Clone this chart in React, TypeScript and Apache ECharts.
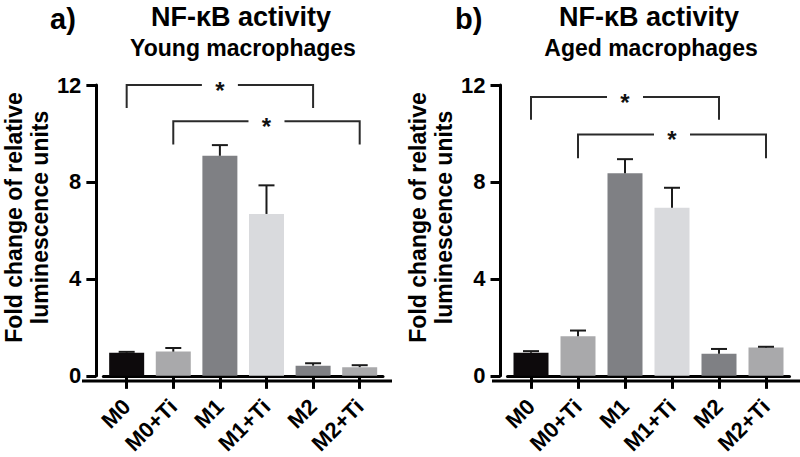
import React, { useEffect, useRef } from "react";
import * as echarts from "echarts";

const categories = ["M0", "M0+Ti", "M1", "M1+Ti", "M2", "M2+Ti"];
const youngMeans = [0.95, 1.0, 9.08, 6.68, 0.42, 0.36];
const youngErrors = [0.04, 0.15, 0.44, 1.18, 0.1, 0.08];
const agedMeans = [0.95, 1.63, 8.36, 6.94, 0.91, 1.17];
const agedErrors = [0.07, 0.24, 0.58, 0.82, 0.2, 0.03];
const barColors = ["#0d0a0c", "#a9a9ab", "#7f8084", "#d9dadd", "#7f8084", "#a9a9ab"];
// [fromIndex, toIndex, bracketTop, bracketLegBottom]
const youngBrackets = [
  [0, 4, 12, 11.05],
  [1, 5, 10.5, 9.55],
];
const agedBrackets = [
  [0, 4, 11.5, 10.57],
  [1, 5, 9.96, 8.98],
];
const yMin = 0;
const yMax = 12;
const yInterval = 4;
const panelLetters = ["a)", "b)"];
const panelTitle = "NF-κB activity";
const panelSubtitles = ["Young macrophages", "Aged macrophages"];
const yAxisName = "Fold change of relative\nluminescence units";

const FONT = "'Liberation Sans', Arial, Helvetica, sans-serif";

function errorRender(params: any, api: any) {
  const x = api.value(0);
  const m = api.value(1);
  const e = api.value(2);
  const base = api.coord([x, m]);
  const top = api.coord([x, m + e]);
  const style = { stroke: "#1b1b1b", lineWidth: 2 };
  return {
    type: "group",
    children: [
      { type: "line", shape: { x1: base[0], y1: base[1], x2: top[0], y2: top[1] }, style },
      { type: "line", shape: { x1: top[0] - 8, y1: top[1], x2: top[0] + 8, y2: top[1] }, style },
    ],
  };
}

function bracketRender(params: any, api: any) {
  const x1 = api.value(0);
  const x2 = api.value(1);
  const yt = api.value(2);
  const yb = api.value(3);
  const p1 = api.coord([x1, yb]);
  const p2 = api.coord([x1, yt]);
  const p3 = api.coord([x2, yt]);
  const p4 = api.coord([x2, yb]);
  const mid = (p2[0] + p3[0]) / 2;
  const gap = 18;
  const style = { stroke: "#2a2a2a", lineWidth: 2, fill: null };
  return {
    type: "group",
    children: [
      { type: "polyline", shape: { points: [p1, p2, [mid - gap, p2[1]]] }, style },
      { type: "polyline", shape: { points: [[mid + gap, p3[1]], p3, p4] }, style },
      {
        type: "text",
        x: mid,
        y: p2[1] + 5,
        style: {
          text: "*",
          font: `bold 24px ${FONT}`,
          fill: "#111",
          align: "center",
          verticalAlign: "middle",
        },
      },
    ],
  };
}

export default function App() {
  const ref = useRef<HTMLDivElement>(null);
  useEffect(() => {
    if (!ref.current) return;
    const chart = echarts.init(ref.current, null, { renderer: "svg" });
    const grids = [
      { left: 102, right: 417, top: 85, bottom: 76 },
      { left: 507.5, right: 10.5, top: 85, bottom: 76 },
    ];
    const xAxes = [0, 1].map((i) => ({
      type: "category",
      gridIndex: i,
      data: categories,
      axisLine: { show: true, lineStyle: { color: "#000", width: 3 } },
      axisTick: { show: true, alignWithLabel: true, length: 13, lineStyle: { color: "#000", width: 3 } },
      axisLabel: {
        interval: 0,
        rotate: 45,
        margin: 27,
        fontSize: 22,
        fontWeight: "bold",
        color: "#000",
        fontFamily: FONT,
      },
    }));
    const yAxes = [0, 1].map((i) => ({
      type: "value",
      gridIndex: i,
      min: yMin,
      max: yMax,
      interval: yInterval,
      offset: 7,
      name: yAxisName,
      nameLocation: "middle",
      nameRotate: 90,
      nameGap: 41,
      nameTextStyle: {
        fontSize: 23,
        fontWeight: "bold",
        color: "#000",
        fontFamily: FONT,
        lineHeight: 26,
        padding: [0, 0, 0, 26],
      },
      axisLine: { show: true, lineStyle: { color: "#000", width: 3 } },
      axisTick: { show: true, length: 10, lineStyle: { color: "#000", width: 3 } },
      splitLine: { show: false },
      axisLabel: {
        margin: 15,
        fontSize: 22,
        fontWeight: "bold",
        color: "#000",
        fontFamily: FONT,
      },
    }));
    const panels = [
      { means: youngMeans, errs: youngErrors, brackets: youngBrackets },
      { means: agedMeans, errs: agedErrors, brackets: agedBrackets },
    ];
    const series: any[] = [];
    panels.forEach((p, i) => {
      series.push({
        type: "bar",
        xAxisIndex: i,
        yAxisIndex: i,
        barWidth: 35,
        data: p.means.map((v, j) => ({ value: v, itemStyle: { color: barColors[j] } })),
        z: 2,
      });
      series.push({
        type: "custom",
        xAxisIndex: i,
        yAxisIndex: i,
        renderItem: errorRender,
        data: p.means.map((v, j) => [j, v, p.errs[j]]),
        encode: { x: 0, y: 1 },
        z: 3,
      });
      series.push({
        type: "custom",
        xAxisIndex: i,
        yAxisIndex: i,
        renderItem: bracketRender,
        data: p.brackets,
        encode: { x: [0, 1], y: [2, 3] },
        clip: false,
        z: 3,
      });
    });
    const titleCenters = [241, 649];
    const letterX = [50, 455];
    const graphic: any[] = [];
    [0, 1].map((i) => {
      graphic.push({
        type: "text",
        left: letterX[i],
        top: 4,
        style: { text: panelLetters[i], font: `bold 29px ${FONT}`, fill: "#000" },
      });
      graphic.push({
        type: "text",
        x: titleCenters[i],
        y: 17,
        style: {
          text: panelTitle,
          font: `bold 27px ${FONT}`,
          fill: "#000",
          align: "center",
          verticalAlign: "middle",
        },
      });
      graphic.push({
        type: "text",
        x: titleCenters[i] + 2,
        y: 48,
        style: {
          text: panelSubtitles[i],
          font: `bold 23px ${FONT}`,
          fill: "#000",
          align: "center",
          verticalAlign: "middle",
        },
      });
    });
    // x-axis line extensions (GraphPad style axes extend past the category band)
    graphic.push({ type: "line", shape: { x1: 82, y1: 381, x2: 392, y2: 381 }, style: { stroke: "#000", lineWidth: 3 } });
    graphic.push({ type: "line", shape: { x1: 492, y1: 381, x2: 800, y2: 381 }, style: { stroke: "#000", lineWidth: 3 } });

    chart.setOption({
      animation: false,
      backgroundColor: "#fff",
      grid: grids,
      xAxis: xAxes,
      yAxis: yAxes,
      series,
      graphic,
    });
    return () => chart.dispose();
  }, []);
  return <div ref={ref} style={{ width: 800, height: 457, position: "fixed", left: 0, top: 0 }} />;
}
